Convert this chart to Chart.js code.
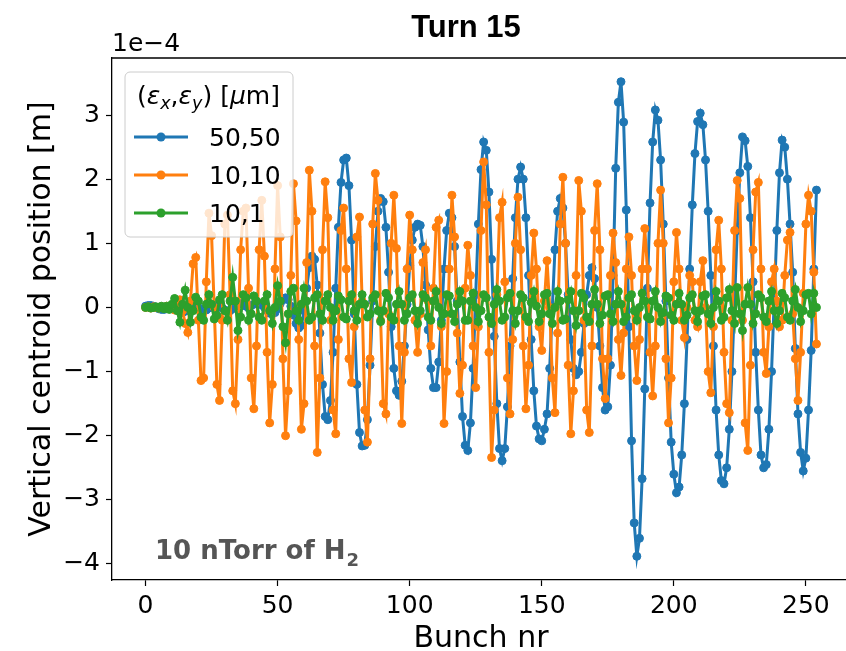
<!DOCTYPE html>
<html><head><meta charset="utf-8">
<script src="https://cdn.jsdelivr.net/npm/chart.js@4.4.0/dist/chart.umd.min.js"></script>
<style>html,body{margin:0;padding:0;overflow:hidden;background:#fff;width:846px;height:651px}canvas{display:block}</style>
</head><body><canvas id="c" width="880" height="651"></canvas>
<script>
const seriesLabels = ['50,50', '10,10', '10,1'];
const xTicks = [0, 50, 100, 150, 200, 250];
const yTicks = [-4, -3, -2, -1, 0, 1, 2, 3];

// values in units of 1e-4 m, bunch 0..254
const blue = [
 0.02,0.03,0.03,0.02,0.00,-0.02,-0.03,-0.03,-0.02,0.00,
 0.01,-0.01,-0.03,-0.06,-0.08,-0.06,-0.02,0.02,0.04,0.03,
 0.00,-0.03,-0.05,-0.04,-0.01,0.02,0.04,0.04,0.02,-0.01,
 -0.04,-0.06,-0.05,-0.02,0.02,0.05,0.06,0.05,0.02,-0.01,
 0.03,0.05,0.06,0.06,0.04,0.00,-0.05,-0.09,-0.10,-0.08,
 -0.02,0.06,0.12,0.15,0.12,0.02,-0.12,-0.25,-0.32,-0.28,
 -0.05,0.30,0.62,0.80,0.75,0.35,-0.40,-1.20,-1.70,-1.75,
 -1.45,-0.70,0.30,1.25,1.95,2.30,2.33,1.90,1.05,-0.10,
 -1.20,-1.95,-2.16,-2.15,-1.75,-0.90,0.10,0.95,1.50,1.70,
 1.65,1.25,0.55,-0.30,-0.95,-1.30,-1.37,-1.15,-0.60,0.05,
 0.65,1.05,1.25,1.30,1.28,0.95,0.35,-0.35,-0.95,-1.25,
 -1.25,-0.85,-0.20,0.60,1.20,1.47,1.40,0.95,0.10,-0.85,
 -1.70,-2.15,-2.23,-1.80,-0.95,0.20,1.30,2.15,2.58,2.45,
 1.80,0.75,-0.45,-1.50,-2.20,-2.39,-2.20,-1.55,-0.60,0.45,
 1.40,2.00,2.19,2.00,1.40,0.50,-0.50,-1.30,-1.85,-2.05,
 -2.08,-1.90,-1.66,-0.95,0.00,0.90,1.50,1.70,1.55,1.00,
 0.20,-0.50,-0.95,-1.05,-1.00,-0.70,-0.25,0.20,0.50,0.62,
 0.45,0.00,-0.60,-1.25,-1.60,-1.55,-0.90,0.50,2.17,3.20,
 3.52,2.89,1.52,-0.30,-2.08,-3.36,-3.88,-3.60,-2.67,-1.27,
 0.30,1.63,2.58,3.08,2.92,2.30,1.30,0.10,-1.10,-2.10,
 -2.60,-2.89,-2.80,-2.30,-1.50,-0.50,0.60,1.60,2.40,2.90,
 3.03,2.85,2.30,1.50,0.50,-0.60,-1.60,-2.30,-2.70,-2.75,
 -2.50,-1.90,-1.00,0.10,1.20,2.10,2.66,2.60,2.20,1.40,
 0.40,-0.70,-1.60,-2.30,-2.50,-2.45,-1.90,-1.00,0.10,1.20,
 2.10,2.61,2.50,2.00,1.30,0.55,-0.64,-1.66,-2.26,-2.55,
 -2.35,-1.60,-0.67,0.60,1.83
];
const orange = [
 0.00,0.01,-0.01,0.01,0.00,-0.01,0.01,-0.01,0.02,-0.02,
 0.03,-0.04,0.05,0.12,-0.05,-0.25,-0.39,0.10,0.68,0.78,
 -0.20,-1.14,-1.10,0.40,1.47,1.12,0.00,-1.20,-1.45,-0.20,
 1.30,1.44,0.20,-1.30,-1.50,-0.50,0.90,1.50,1.55,0.30,
 -1.10,-1.58,-0.60,0.90,1.67,0.80,-0.70,-1.80,-1.20,0.60,
 1.90,1.10,-0.80,-2.00,-1.30,0.50,1.93,1.35,-0.50,-1.90,
 -1.50,0.70,2.14,1.50,-0.60,-2.26,-1.10,0.90,1.96,1.40,
 -0.20,-1.60,-1.97,-0.50,1.20,1.55,0.60,-0.80,-1.17,-0.30,
 1.10,1.41,0.10,-1.60,-2.10,-0.80,1.30,2.09,1.67,-0.20,
 -1.50,-1.66,-0.10,1.00,1.75,0.92,-0.60,-1.81,-0.70,0.60,
 1.44,0.90,-0.20,-0.70,-0.10,0.70,0.90,0.10,-0.60,0.30,
 1.25,1.36,-0.30,-1.81,-1.00,0.60,1.75,1.10,-0.40,-1.34,
 -0.90,0.30,0.97,0.50,-0.60,-1.25,-0.30,1.20,2.27,1.60,
 -0.70,-2.34,-1.60,0.20,1.40,1.64,0.40,-1.10,-1.66,-0.50,
 1.00,1.72,0.90,-0.60,-1.58,-0.90,0.50,1.16,0.60,-0.30,
 -0.67,0.10,0.73,0.00,-1.10,-1.64,-0.40,1.30,2.03,1.00,
 -0.90,-1.97,-1.30,0.50,1.98,1.50,-0.20,-1.60,-1.95,-0.60,
 1.20,1.93,0.90,-0.80,-1.42,-0.80,0.50,1.16,0.70,-0.50,
 -1.06,-0.40,0.60,1.10,0.50,-0.60,-1.14,-0.50,0.60,1.23,
 0.60,-0.70,-1.38,-0.60,1.00,1.83,1.00,-0.80,-1.80,-1.10,
 0.40,1.17,0.60,-0.20,-0.47,0.00,0.50,0.40,-0.20,-0.30,
 0.40,0.73,0.00,-1.00,-1.33,-0.30,0.90,1.36,0.60,-0.70,
 -1.50,-1.64,-0.20,1.20,1.98,1.70,-0.20,-1.80,-2.23,-0.90,
 0.90,1.80,1.95,0.60,-0.70,-1.03,-0.30,0.40,0.60,0.10,
 -0.30,-0.20,0.50,1.05,1.17,-0.10,-0.80,-1.45,-0.70,0.22,
 1.30,1.75,1.50,0.55,-0.57
];
const green = [
 0.00,0.01,-0.01,0.00,0.01,-0.01,0.02,-0.02,0.02,-0.03,
 0.05,0.14,-0.05,-0.23,0.05,0.27,0.00,-0.23,-0.05,0.16,
 0.10,-0.15,-0.20,0.05,0.20,0.05,-0.18,-0.12,0.12,0.20,
 -0.05,-0.20,0.10,0.47,0.10,-0.36,-0.15,0.20,0.15,-0.20,
 -0.10,0.18,0.10,-0.15,-0.20,0.10,0.20,-0.05,-0.25,0.00,
 0.34,0.10,-0.30,-0.55,-0.10,0.25,0.30,-0.05,-0.20,0.05,
 0.30,0.10,-0.20,-0.15,0.15,0.20,-0.10,-0.20,0.10,0.20,
 0.00,-0.20,-0.05,0.18,0.12,-0.15,-0.18,0.10,0.20,-0.05,
 -0.20,0.05,0.20,0.05,-0.15,-0.10,0.15,0.20,-0.05,-0.22,
 -0.05,0.22,0.15,-0.15,-0.20,0.05,0.25,0.05,-0.20,-0.10,
 0.15,0.20,-0.05,-0.25,-0.05,0.20,0.15,-0.15,-0.20,0.10,
 0.25,0.00,-0.25,-0.10,0.20,0.18,-0.10,-0.22,0.05,0.25,
 0.10,-0.20,-0.20,0.10,0.22,0.00,-0.22,-0.05,0.20,0.15,
 -0.15,-0.25,0.05,0.28,0.10,-0.20,-0.15,0.15,0.22,-0.05,
 -0.25,-0.05,0.20,0.15,-0.15,-0.22,0.08,0.25,0.02,-0.22,
 -0.10,0.20,0.22,-0.10,-0.25,0.00,0.25,0.10,-0.20,-0.18,
 0.12,0.25,-0.05,-0.28,-0.05,0.22,0.15,-0.15,-0.22,0.05,
 0.28,0.05,-0.25,-0.12,0.18,0.20,-0.10,-0.22,0.05,0.25,
 0.05,-0.22,-0.15,0.15,0.20,-0.05,-0.20,0.00,0.22,0.10,
 -0.15,-0.18,0.10,0.25,0.00,-0.22,-0.08,0.18,0.15,-0.12,
 -0.20,0.05,0.22,0.05,-0.20,-0.12,0.15,0.20,-0.05,-0.22,
 -0.05,0.18,0.20,-0.10,-0.25,0.00,0.25,0.10,-0.20,-0.15,
 0.15,0.28,-0.05,-0.25,0.31,-0.10,-0.36,0.05,0.31,0.05,
 -0.25,-0.10,0.20,0.15,-0.15,-0.22,0.10,0.25,-0.05,-0.25,
 -0.05,0.22,0.15,-0.15,-0.20,0.10,0.28,0.00,-0.22,-0.05,
 0.20,0.22,-0.10,0.22,0.00
];
const colors = ['#1f77b4', '#ff7f0e', '#2ca02c'];

const toPts = arr => arr.map((v, i) => ({x: i, y: v}));
const fmt = v => String(v).replace('-', '\u2212');
const FONT = 'DejaVu Sans';
const BASE = 25;

const overlay = {
  id: 'overlay',
  afterDraw(chart) {
    const ctx = chart.ctx, a = chart.chartArea;
    ctx.save();
    ctx.strokeStyle = '#000'; ctx.lineWidth = 1.3;
    ctx.beginPath(); ctx.moveTo(a.left, a.top); ctx.lineTo(a.right, a.top); ctx.lineTo(a.right, a.bottom); ctx.stroke();
    const cx = (a.left + a.right) / 2;
    // title
    ctx.fillStyle = '#000';
    ctx.textBaseline = 'alphabetic';
    ctx.textAlign = 'center';
    ctx.font = 'bold 31px "Liberation Sans", Arial, sans-serif';
    ctx.fillText('Turn 15', 466, 37);
    // offset text
    ctx.textAlign = 'left';
    ctx.font = BASE + 'px "' + FONT + '"';
    ctx.fillText('1e\u22124', a.left, 51);
    // x label
    ctx.textAlign = 'center';
    ctx.font = '30px "' + FONT + '"';
    ctx.fillText('Bunch nr', cx, 647);
    // y label
    ctx.save();
    ctx.translate(50, (a.top + a.bottom) / 2);
    ctx.rotate(-Math.PI / 2);
    ctx.fillText('Vertical centroid position [m]', 0, 0);
    ctx.restore();
    // annotation
    ctx.textAlign = 'left';
    ctx.fillStyle = '#555555';
    ctx.font = 'bold 26px "' + FONT + '"';
    const ann = '10 nTorr of H';
    ctx.fillText(ann, 155, 559);
    const aw = ctx.measureText(ann).width;
    ctx.font = 'bold 18px "' + FONT + '"';
    ctx.fillText('2', 155 + aw + 1, 566);
    // legend
    const lx = 125, ly = 72, lw = 168, lh = 165;
    ctx.beginPath();
    ctx.roundRect(lx, ly, lw, lh, 5);
    ctx.fillStyle = 'rgba(255,255,255,0.8)';
    ctx.fill();
    ctx.strokeStyle = '#cccccc'; ctx.lineWidth = 1;
    ctx.stroke();
    ctx.fillStyle = '#000';
    const sub = BASE * 0.7;
    const parts = [
      ['(', 'normal', BASE, 0], ['\u03b5', 'italic', BASE, 0], ['x', 'italic', sub, 5],
      [',', 'normal', BASE, 0], ['\u03b5', 'italic', BASE, 0], ['y', 'italic', sub, 5],
      [') [', 'normal', BASE, 0], ['\u03bc', 'italic', BASE, 0], ['m]', 'normal', BASE, 0]
    ];
    let px = 137;
    for (const [t, st, sz, dy] of parts) {
      ctx.font = st + ' ' + sz + 'px "' + FONT + '"';
      ctx.fillText(t, px, 104 + dy);
      px += ctx.measureText(t).width;
    }
    const rows = [137, 175, 213];
    seriesLabels.forEach((lab, i) => {
      const y = rows[i];
      ctx.strokeStyle = colors[i]; ctx.lineWidth = 3;
      ctx.beginPath(); ctx.moveTo(134, y); ctx.lineTo(188, y); ctx.stroke();
      ctx.fillStyle = colors[i];
      ctx.beginPath(); ctx.arc(161, y, 4.5, 0, Math.PI * 2); ctx.fill();
      ctx.fillStyle = '#000';
      ctx.font = BASE + 'px "' + FONT + '"';
      ctx.fillText(lab, 209, y + 9);
    });
    ctx.restore();
  }
};

const tickFont = {family: FONT, size: BASE};
new Chart(document.getElementById('c'), {
  type: 'line',
  data: {
    datasets: [blue, orange, green].map((arr, i) => ({
      label: seriesLabels[i], data: toPts(arr),
      borderColor: colors[i], backgroundColor: colors[i], order: 3 - i
    }))
  },
  options: {
    responsive: false, animation: false, devicePixelRatio: 1,
    layout: {padding: {left: 0, top: 58, right: 30, bottom: 0}},
    elements: {
      line: {borderWidth: 3, tension: 0},
      point: {radius: 4, borderWidth: 1, hoverRadius: 4}
    },
    plugins: {legend: {display: false}, title: {display: false}, tooltip: {enabled: false}},
    events: [],
    scales: {
      x: {
        type: 'linear', min: -12.7, max: 266.7,
        afterFit: s => { s.height = 71; },
        afterBuildTicks: s => { s.ticks = xTicks.map(v => ({value: v})); },
        ticks: {font: tickFont, color: '#000', padding: 5, maxRotation: 0, autoSkip: false, callback: v => fmt(v)},
        grid: {drawOnChartArea: false, drawTicks: true, tickLength: 6, color: '#000', tickWidth: 1.2},
        border: {display: true, color: '#000', width: 1.3}
      },
      y: {
        type: 'linear', min: -4.25, max: 3.89,
        afterFit: s => { s.width = 112; },
        afterBuildTicks: s => { s.ticks = yTicks.map(v => ({value: v})); },
        ticks: {font: tickFont, color: '#000', padding: 6, autoSkip: false, callback: v => fmt(v)},
        grid: {drawOnChartArea: false, drawTicks: true, tickLength: 6, color: '#000', tickWidth: 1.2},
        border: {display: true, color: '#000', width: 1.3}
      }
    }
  },
  plugins: [overlay]
});
</script>
</body></html>
